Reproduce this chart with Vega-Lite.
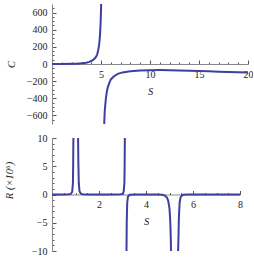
{
  "$schema": "https://vega.github.io/schema/vega-lite/v6.json",
  "padding": {"left": 4, "top": 0, "right": 0, "bottom": 0},
  "spacing": 5,
  "config": {
    "view": {"stroke": null},
    "font": "Liberation Serif",
    "axis": {
      "grid": false,
      "labelFont": "Liberation Serif",
      "labelFontSize": 10,
      "labelColor": "#222222",
      "titleFont": "Liberation Serif",
      "titleFontSize": 10.5,
      "titleFontWeight": "normal",
      "titleFontStyle": "italic",
      "titleColor": "#222222",
      "domainColor": "#888888",
      "tickColor": "#555555",
      "labelPadding": 9,
      "labelFlush": false
    },
    "line": {"color": "#3f3f9f", "strokeWidth": 2}
  },
  "vconcat": [
    {
      "width": 196,
      "height": 120,
      "data": {"values": [
        {"S": 0, "C": 0, "seg": "a"}, {"S": 1, "C": 0.5, "seg": "a"}, {"S": 2, "C": 2, "seg": "a"},
        {"S": 2.5, "C": 4, "seg": "a"}, {"S": 3, "C": 8, "seg": "a"}, {"S": 3.5, "C": 15, "seg": "a"},
        {"S": 3.8, "C": 25, "seg": "a"}, {"S": 4, "C": 35, "seg": "a"}, {"S": 4.2, "C": 48, "seg": "a"},
        {"S": 4.4, "C": 70, "seg": "a"}, {"S": 4.5, "C": 85, "seg": "a"}, {"S": 4.6, "C": 110, "seg": "a"},
        {"S": 4.7, "C": 150, "seg": "a"}, {"S": 4.8, "C": 220, "seg": "a"}, {"S": 4.85, "C": 270, "seg": "a"},
        {"S": 4.9, "C": 340, "seg": "a"}, {"S": 4.95, "C": 450, "seg": "a"}, {"S": 5.0, "C": 620, "seg": "a"},
        {"S": 5.015, "C": 700, "seg": "a"},
        {"S": 5.33, "C": -700, "seg": "b"}, {"S": 5.36, "C": -600, "seg": "b"}, {"S": 5.4, "C": -520, "seg": "b"},
        {"S": 5.5, "C": -400, "seg": "b"}, {"S": 5.6, "C": -320, "seg": "b"}, {"S": 5.7, "C": -270, "seg": "b"},
        {"S": 5.85, "C": -220, "seg": "b"}, {"S": 6.0, "C": -180, "seg": "b"}, {"S": 6.3, "C": -145, "seg": "b"},
        {"S": 6.7, "C": -115, "seg": "b"}, {"S": 7.2, "C": -98, "seg": "b"}, {"S": 8, "C": -85, "seg": "b"},
        {"S": 9, "C": -76, "seg": "b"}, {"S": 10, "C": -72, "seg": "b"}, {"S": 11, "C": -71, "seg": "b"},
        {"S": 12, "C": -72, "seg": "b"}, {"S": 13, "C": -75, "seg": "b"}, {"S": 14, "C": -78, "seg": "b"},
        {"S": 15, "C": -82, "seg": "b"}, {"S": 16, "C": -85, "seg": "b"}, {"S": 17, "C": -89, "seg": "b"},
        {"S": 18, "C": -92, "seg": "b"}, {"S": 19, "C": -96, "seg": "b"}, {"S": 20, "C": -100, "seg": "b"}
      ]},
      "mark": {"type": "line"},
      "encoding": {
        "x": {
          "field": "S", "type": "quantitative",
          "scale": {"domain": [0, 20], "nice": false, "zero": false},
          "axis": {
            "title": "S",
            "values": [1,2,3,4,5,6,7,8,9,10,11,12,13,14,15,16,17,18,19,20],
            "labelExpr": "datum.value % 5 === 0 ? datum.label : ''",
            "offset": -60,
            "tickSize": {"condition": {"test": "datum.value % 5 === 0", "value": -4}, "value": -2},
            "titlePadding": 7
          }
        },
        "y": {
          "field": "C", "type": "quantitative",
          "scale": {"domain": [-700, 700], "nice": false, "zero": false},
          "axis": {
            "title": "C",
            "values": [-650,-600,-550,-500,-450,-400,-350,-300,-250,-200,-150,-100,-50,0,50,100,150,200,250,300,350,400,450,500,550,600,650],
            "labelExpr": "datum.value % 200 === 0 ? datum.label : ''",
            "tickSize": {"condition": {"test": "datum.value % 200 === 0", "value": -4}, "value": -2},
            "titlePadding": 10
          }
        },
        "detail": {"field": "seg", "type": "nominal"}
      }
    },
    {
      "width": 188,
      "height": 113,
      "data": {"values": [
        {"S": 0, "R": 0, "seg": "a"}, {"S": 0.5, "R": 0, "seg": "a"}, {"S": 0.7, "R": 0.03, "seg": "a"},
        {"S": 0.8, "R": 0.1, "seg": "a"}, {"S": 0.86, "R": 0.5, "seg": "a"}, {"S": 0.89, "R": 2, "seg": "a"},
        {"S": 0.9, "R": 5, "seg": "a"}, {"S": 0.91, "R": 10, "seg": "a"},
        {"S": 1.11, "R": 10, "seg": "b"}, {"S": 1.12, "R": 6, "seg": "b"}, {"S": 1.14, "R": 2, "seg": "b"},
        {"S": 1.17, "R": 0.6, "seg": "b"}, {"S": 1.22, "R": 0.2, "seg": "b"}, {"S": 1.3, "R": 0.05, "seg": "b"},
        {"S": 1.6, "R": 0, "seg": "b"}, {"S": 2.5, "R": 0, "seg": "b"}, {"S": 2.9, "R": 0.03, "seg": "b"},
        {"S": 3.0, "R": 0.1, "seg": "b"}, {"S": 3.05, "R": 0.5, "seg": "b"}, {"S": 3.08, "R": 2, "seg": "b"},
        {"S": 3.09, "R": 5, "seg": "b"}, {"S": 3.1, "R": 10, "seg": "b"},
        {"S": 3.17, "R": -10, "seg": "c"}, {"S": 3.18, "R": -5, "seg": "c"}, {"S": 3.2, "R": -1.5, "seg": "c"},
        {"S": 3.23, "R": -0.4, "seg": "c"}, {"S": 3.3, "R": -0.05, "seg": "c"}, {"S": 3.6, "R": 0, "seg": "c"},
        {"S": 4.5, "R": 0, "seg": "c"}, {"S": 4.7, "R": -0.05, "seg": "c"}, {"S": 4.8, "R": -0.2, "seg": "c"},
        {"S": 4.9, "R": -0.6, "seg": "c"}, {"S": 4.95, "R": -1.2, "seg": "c"}, {"S": 5.0, "R": -2.5, "seg": "c"},
        {"S": 5.03, "R": -4.5, "seg": "c"}, {"S": 5.05, "R": -7, "seg": "c"}, {"S": 5.065, "R": -10, "seg": "c"},
        {"S": 5.365, "R": -10, "seg": "d"}, {"S": 5.38, "R": -8, "seg": "d"},
        {"S": 5.4, "R": -4, "seg": "d"}, {"S": 5.43, "R": -1.5, "seg": "d"}, {"S": 5.47, "R": -0.5, "seg": "d"},
        {"S": 5.55, "R": -0.1, "seg": "d"}, {"S": 5.7, "R": -0.02, "seg": "d"}, {"S": 6, "R": 0, "seg": "d"},
        {"S": 8, "R": 0, "seg": "d"}
      ]},
      "mark": {"type": "line"},
      "encoding": {
        "x": {
          "field": "S", "type": "quantitative",
          "scale": {"domain": [0, 8], "nice": false, "zero": false},
          "axis": {
            "title": "S",
            "format": "~r",
            "values": [0.5,1,1.5,2,2.5,3,3.5,4,4.5,5,5.5,6,6.5,7,7.5,8],
            "labelExpr": "datum.value % 2 === 0 ? datum.label : ''",
            "offset": -56.5,
            "tickSize": {"condition": {"test": "datum.value % 2 === 0", "value": -4}, "value": -2},
            "titlePadding": 7
          }
        },
        "y": {
          "field": "R", "type": "quantitative",
          "scale": {"domain": [-10, 10], "nice": false, "zero": false},
          "axis": {
            "title": "R (×10⁶)",
            "titleY": 42,
            "values": [-10,-9,-8,-7,-6,-5,-4,-3,-2,-1,0,1,2,3,4,5,6,7,8,9,10],
            "labelExpr": "datum.value % 5 === 0 ? datum.label : ''",
            "tickSize": {"condition": {"test": "datum.value % 5 === 0", "value": -4}, "value": -2},
            "titlePadding": 17
          }
        },
        "detail": {"field": "seg", "type": "nominal"}
      }
    }
  ]
}
